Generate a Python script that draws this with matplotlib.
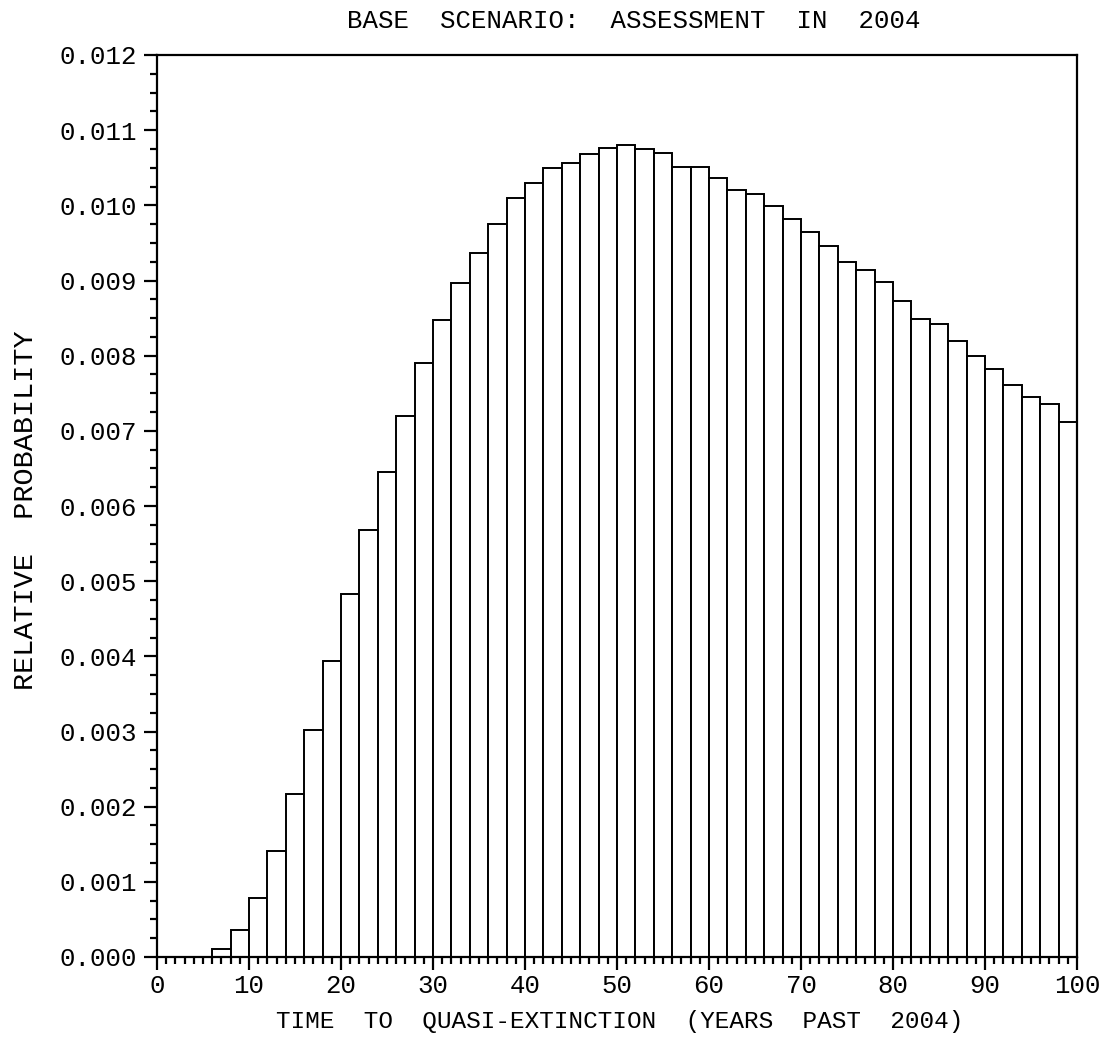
import matplotlib
matplotlib.use("Agg")
import matplotlib.pyplot as plt
from matplotlib.ticker import MultipleLocator, FormatStrFormatter

plt.rcParams['font.family'] = ['Liberation Mono', 'DejaVu Sans']

# Bin left edges (years past 2004), bin width 2
bin_starts = list(range(0, 100, 2))
rel_prob = [
    0.0, 0.0, 0.0, 0.000106, 0.000355,                 # 0-10
    0.000785, 0.00141, 0.002164, 0.00302, 0.003938,    # 10-20
    0.004825, 0.005676, 0.006452, 0.007197, 0.007902,  # 20-30
    0.008478, 0.008966, 0.009365, 0.00975, 0.010093,   # 30-40
    0.0103, 0.010492, 0.010558, 0.010687, 0.010758,    # 40-50
    0.010798, 0.010745, 0.0107, 0.010514, 0.010514,    # 50-60
    0.010363, 0.0102, 0.010155, 0.00999, 0.009813,     # 60-70
    0.009649, 0.009454, 0.009246, 0.009135, 0.00898,   # 70-80
    0.008727, 0.008483, 0.008421, 0.008199, 0.007995,  # 80-90
    0.007827, 0.007609, 0.007454, 0.007352, 0.007121,  # 90-100
]
bin_width = 2

title = "BASE  SCENARIO:  ASSESSMENT  IN  2004"
xlabel = "TIME  TO  QUASI-EXTINCTION  (YEARS  PAST  2004)"
ylabel = "RELATIVE  PROBABILITY"

W, H = 1104, 1040
fig = plt.figure(figsize=(W / 100, H / 100), dpi=100)
ax = fig.add_axes([157 / W, 1 - 957 / H, (1077 - 157) / W, (957 - 55) / H])

ax.bar(bin_starts, rel_prob, width=bin_width, align='edge',
       facecolor='white', edgecolor='black', linewidth=1.4)

ax.set_xlim(0, 100)
ax.set_ylim(0, 0.012)
ax.xaxis.set_major_locator(MultipleLocator(10))
ax.xaxis.set_minor_locator(MultipleLocator(1))
ax.yaxis.set_major_locator(MultipleLocator(0.001))
ax.yaxis.set_minor_locator(MultipleLocator(0.00025))
ax.yaxis.set_major_formatter(FormatStrFormatter('%.3f'))

for s in ax.spines.values():
    s.set_linewidth(1.6)
ax.tick_params(axis='both', which='major', direction='out', length=9.5,
               width=1.6, labelsize=18.5)
ax.tick_params(axis='x', which='major', pad=3)
ax.tick_params(axis='y', which='major', pad=5)
ax.tick_params(axis='both', which='minor', direction='out', length=5,
               width=1.6)
ax.tick_params(top=False, right=False, which='both')

fig.text(634 / W, 1 - 28 / H, title, fontsize=18.5, ha='center', va='baseline')
fig.text(620 / W, 1 - 1028 / H, xlabel, fontsize=17.6, ha='center', va='baseline')
fig.text(33 / W, 1 - 510 / H, ylabel, fontsize=20.5, rotation=90,
         rotation_mode='anchor', ha='center', va='baseline')

fig.savefig("out.png", dpi=100)
